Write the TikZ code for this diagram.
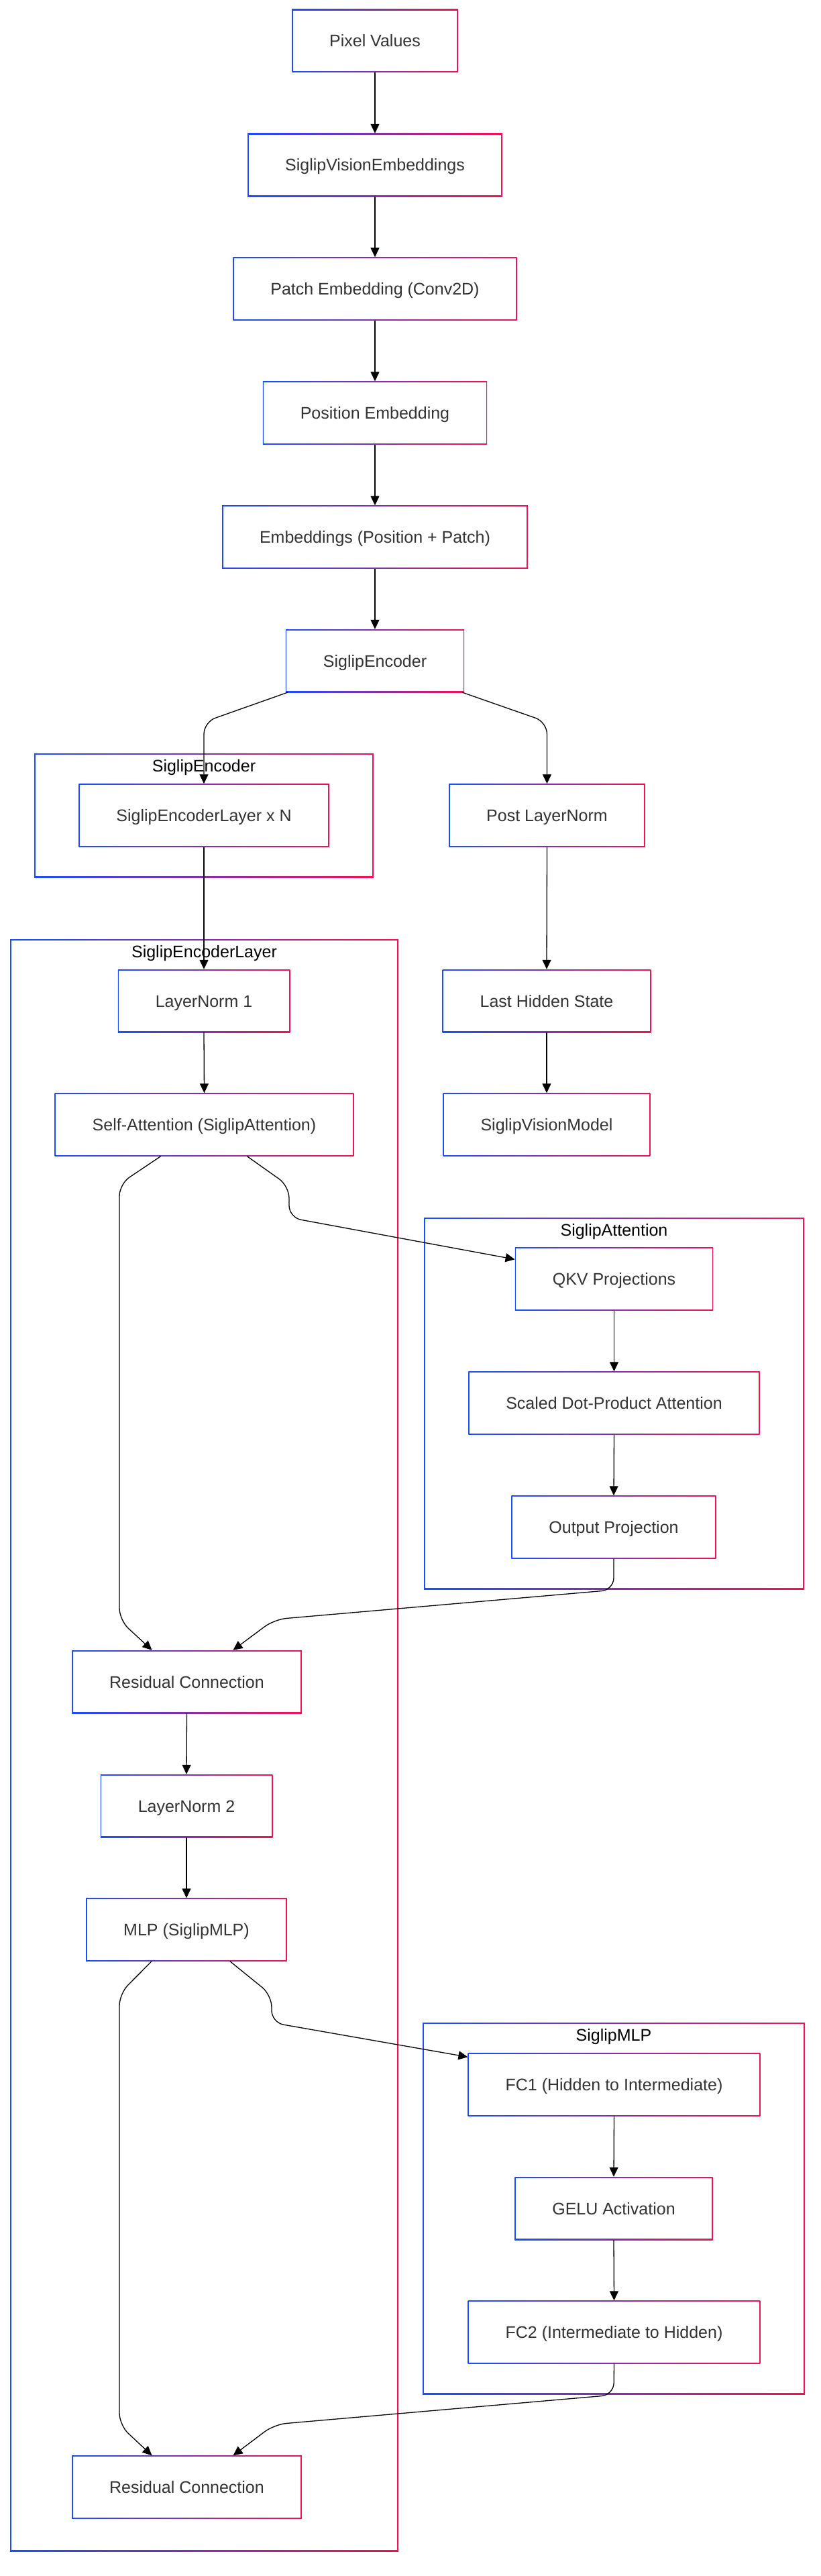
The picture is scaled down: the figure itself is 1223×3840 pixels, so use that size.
\documentclass[tikz,border=0pt]{standalone}
\usepackage{fontspec}
\setmainfont{Liberation Sans}
\usepackage{xcolor}
\usetikzlibrary{arrows.meta,positioning}

\definecolor{sigblue}{RGB}{24,78,255}
\definecolor{sigred}{RGB}{242,18,82}
\definecolor{sigtext}{RGB}{51,51,51}

\tikzset{
  gradframe/.style={path picture={
    \shade[left color=sigblue,right color=sigred] (path picture bounding box.south west) rectangle (path picture bounding box.north east);
    \fill[white] ([shift={(1.6pt,1.6pt)}]path picture bounding box.south west) rectangle ([shift={(-1.6pt,-1.6pt)}]path picture bounding box.north east);}},
  stage/.style={gradframe, minimum height=94pt, inner xsep=56pt, inner ysep=0pt, text=sigtext,
    font=\fontsize{25}{30}\selectfont, text height=18pt, text depth=0pt},
  group/.style={gradframe, inner sep=0pt},
  grouptitle/.style={inner sep=2pt, text=black, font=\fontsize{25}{30}\selectfont, text height=18pt, text depth=5pt},
  flow/.style={draw=black, line width=1.3pt, rounded corners=18pt, -{Triangle[length=14pt,width=13pt]}}
}

\begin{document}
\begin{tikzpicture}[x=1pt,y=-1pt]
\useasboundingbox[fill=white] (0,0) rectangle (1223,3840);

%Shape: Groups
\node[group, minimum width=506pt, minimum height=185pt] (encgrp) at (304,1215.5) {};
\node[group, minimum width=579pt, minimum height=2403pt] (layergrp) at (304.5,2601.5) {};
\node[group, minimum width=567pt, minimum height=554pt] (attngrp) at (915.5,2092) {};
\node[group, minimum width=570pt, minimum height=554pt] (mlpgrp) at (915,3292) {};
\node[grouptitle, below=7pt of encgrp.north] (enctitle) {SiglipEncoder};
\node[grouptitle, below=7pt of layergrp.north] (layertitle) {SiglipEncoderLayer};
\node[grouptitle, below=7pt of attngrp.north] (attntitle) {SiglipAttention};
\node[grouptitle, below=7pt of mlpgrp.north] (mlptitle) {SiglipMLP};

% Text Node
\node[stage] (pix) at (559,61) {Pixel Values};
\node[stage] (sve) at (559,246) {SiglipVisionEmbeddings};
\node[stage] (patch) at (559,430.5) {Patch Embedding (Conv2D)};
\node[stage] (pos) at (559,615.5) {Position Embedding};
\node[stage] (emb) at (559,800.5) {Embeddings (Position + Patch)};
\node[stage] (enc) at (559,985) {SiglipEncoder};
\node[stage] (encl) at (304,1215.5) {SiglipEncoderLayer x N};
\node[stage] (post) at (815.5,1215.5) {Post LayerNorm};
\node[stage] (ln1) at (304,1492) {LayerNorm 1};
\node[stage] (last) at (815,1492) {Last Hidden State};
\node[stage] (attn) at (304.5,1676.5) {Self-Attention (SiglipAttention)};
\node[stage] (model) at (815,1676.5) {SiglipVisionModel};
\node[stage] (qkv) at (915.5,1906.5) {QKV Projections};
\node[stage] (sdpa) at (915.5,2091.5) {Scaled Dot-Product Attention};
\node[stage] (outp) at (915,2276.5) {Output Projection};
\node[stage] (res1) at (278.5,2507) {Residual Connection};
\node[stage] (ln2) at (278,2692) {LayerNorm 2};
\node[stage] (mlp) at (278,2876.5) {MLP (SiglipMLP)};
\node[stage] (fc1) at (915.5,3107.5) {FC1 (Hidden to Intermediate)};
\node[stage] (gelu) at (915,3292) {GELU Activation};
\node[stage] (fc2) at (915.5,3476.5) {FC2 (Intermediate to Hidden)};
\node[stage] (res2) at (278.5,3707.5) {Residual Connection};

%Straight Lines
\draw[flow] (pix.south) -- (sve.north);
\draw[flow] (sve.south) -- (patch.north);
\draw[flow] (patch.south) -- (pos.north);
\draw[flow] (pos.south) -- (emb.north);
\draw[flow] (emb.south) -- (enc.north);
\draw[flow] ([xshift=3pt]enc.south west) -- ([yshift=92pt]encl.north) -- (encl.north);
\draw[flow] ([xshift=-3pt]enc.south east) -- ([yshift=92pt]post.north) -- (post.north);
\draw[flow] (encl.south) -- (ln1.north);
\draw[flow] (post.south) -- (last.north);
\draw[flow] (last.south) -- (model.north);
\draw[flow] (ln1.south) -- (attn.north);
\draw[flow] ([xshift=-65pt]attn.south) -- (178,1765) -- (178,2415) -- ([xshift=-52pt]res1.north);
\draw[flow] ([xshift=64pt]attn.south) -- (431,1768) -- (431,1815) -- ([yshift=-18pt]qkv.north west);
\draw[flow] (qkv.south) -- (sdpa.north);
\draw[flow] (sdpa.south) -- (outp.north);
\draw[flow] (outp.south) -- (915,2370) -- (409,2414) -- ([xshift=69pt]res1.north);
\draw[flow] (res1.south) -- (ln2.north);
\draw[flow] (ln2.south) -- (mlp.north);
\draw[flow] ([xshift=-52pt]mlp.south) -- (178,2972) -- (178,3615) -- ([xshift=-52pt]res2.north);
\draw[flow] ([xshift=65pt]mlp.south) -- (405,2974) -- (405,3015) -- ([yshift=-6pt]fc1.north west);
\draw[flow] (fc1.south) -- (gelu.north);
\draw[flow] (gelu.south) -- (fc2.north);
\draw[flow] (fc2.south) -- (915,3570) -- (409,3614) -- ([xshift=69pt]res2.north);

\end{tikzpicture}
\end{document}
